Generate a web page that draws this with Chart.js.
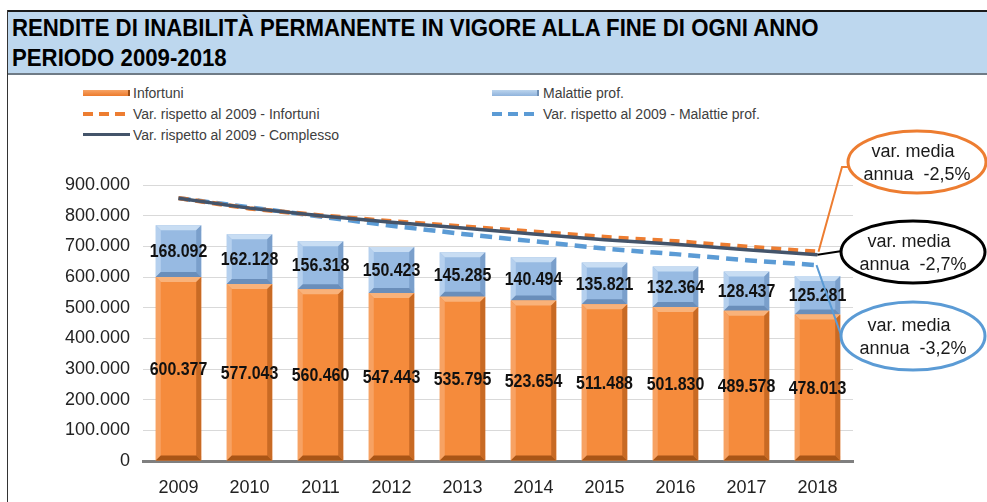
<!DOCTYPE html>
<html><head><meta charset="utf-8">
<script src="https://cdn.jsdelivr.net/npm/chart.js@4.4.1/dist/chart.umd.min.js"></script>
<style>
html,body{margin:0;padding:0;background:#fff;}
#wrap{position:relative;width:987px;height:502px;overflow:hidden;background:#fff;}
#frameL{position:absolute;left:7px;top:10px;width:1px;height:492px;background:#333;}
#header{position:absolute;left:7px;top:10px;width:980px;background:#BDD7EE;border-top:2px solid #1a1a1a;border-bottom:2px solid #6f7b86;box-sizing:border-box;height:65px;}
.t{position:absolute;left:5px;font-family:'Liberation Sans',Arial,sans-serif;font-weight:bold;font-size:24px;color:#000;white-space:nowrap;line-height:26px;transform:scaleX(0.925);transform-origin:0 50%;}
.leg{position:absolute;font-family:'Liberation Sans Narrow','Arial Narrow','Liberation Sans',Arial,sans-serif;font-size:14px;color:#404040;white-space:nowrap;line-height:16px;}
.sw{position:absolute;width:47px;}
canvas{position:absolute;left:0;top:0;}
</style></head>
<body>
<div id="wrap">
  <div id="header">
    <div class="t" style="top:3px">RENDITE DI INABILITÀ PERMANENTE IN VIGORE ALLA FINE DI OGNI ANNO</div>
    <div class="t" style="top:33px">PERIODO 2009-2018</div>
  </div>
  <div id="frameL"></div>
  <div class="sw" style="left:83px;top:90px;height:6px;background:linear-gradient(#F7A466,#EC7A2C);border-right:2px solid #9a4d16;box-sizing:border-box;"></div>
  <div class="leg" style="left:133px;top:85px">Infortuni</div>
  <div class="sw" style="left:492px;top:90px;height:6px;background:linear-gradient(#BCD5EE,#8FB3DC);border-right:2px solid #6f8fb5;box-sizing:border-box;"></div>
  <div class="leg" style="left:543px;top:85px">Malattie prof.</div>
  <div class="sw" style="left:83px;top:112px;height:4px;background:repeating-linear-gradient(90deg,#ED7D31 0 10px,transparent 10px 16px);"></div>
  <div class="leg" style="left:133px;top:106px">Var. rispetto al 2009 - Infortuni</div>
  <div class="sw" style="left:492px;top:112px;height:4px;background:repeating-linear-gradient(90deg,#5B9BD5 0 10px,transparent 10px 16px);"></div>
  <div class="leg" style="left:543px;top:106px">Var. rispetto al 2009 - Malattie prof.</div>
  <div class="sw" style="left:83px;top:133px;height:3px;background:#44546A;"></div>
  <div class="leg" style="left:133px;top:127px">Var. rispetto al 2009 - Complesso</div>
  <canvas id="c" width="987" height="502"></canvas>
</div>
<script>
const years = ['2009','2010','2011','2012','2013','2014','2015','2016','2017','2018'];
const infortuni = [600377,577043,560460,547443,535795,523654,511488,501830,489578,478013];
const malattie  = [168092,162128,156318,150423,145285,140494,135821,132364,128437,125281];
// index 2009 = 100
const varInfortuni = [100,96.1,93.4,91.2,89.2,87.2,85.2,83.6,81.5,79.6];
const varMalattie  = [100,96.5,93.0,89.5,86.4,83.6,80.8,78.7,76.4,74.5];
const varComplesso = [100,96.2,93.3,90.8,88.6,86.4,84.2,82.5,80.4,78.5];
const calloutInfortuni = ['var. media','annua  -2,5%'];
const calloutComplesso = ['var. media','annua  -2,7%'];
const calloutMalattie  = ['var. media','annua  -3,2%'];

const fmt = v => String(v).replace(/\B(?=(\d{3})+(?!\d))/g,'.');
Chart.defaults.font.family = "'Liberation Sans', Arial, sans-serif";

function poly(ctx, pts, color){
  ctx.beginPath(); ctx.moveTo(pts[0][0],pts[0][1]);
  for(let i=1;i<pts.length;i++) ctx.lineTo(pts[i][0],pts[i][1]);
  ctx.closePath(); ctx.fillStyle=color; ctx.fill();
}
const bevelPlugin = {
  id:'bevel',
  afterDatasetDraw(chart,args){
    const ds = chart.data.datasets[args.index];
    const pal = ds.bevelColors; if(!pal) return;
    const ctx = chart.ctx;
    args.meta.data.forEach(el=>{
      const p = el.getProps(['x','y','base','width'],true);
      const l=p.x-p.width/2, r=p.x+p.width/2, t=Math.min(p.y,p.base), b=Math.max(p.y,p.base);
      const d=5;
      ctx.save();
      poly(ctx,[[l,t],[r,t],[r-d,t+d],[l+d,t+d]],pal[0]);
      poly(ctx,[[l,t],[l+d,t+d],[l+d,b-d],[l,b]],pal[1]);
      poly(ctx,[[r,t],[r,b],[r-d,b-d],[r-d,t+d]],pal[2]);
      poly(ctx,[[l,b],[l+d,b-d],[r-d,b-d],[r,b]],pal[3]);
      ctx.restore();
    });
  }
};
const labelPlugin = {
  id:'barlabels',
  afterDatasetsDraw(chart){
    const ctx = chart.ctx;
    chart.data.datasets.forEach((ds,i)=>{
      if(!ds.bevelColors) return;
      const meta = chart.getDatasetMeta(i);
      meta.data.forEach((el,j)=>{
        const p = el.getProps(['x','y','base'],true);
        ctx.save();
        ctx.translate(p.x, (p.y+p.base)/2+1);
        ctx.scale(0.84,1);
        ctx.font = "bold 19px 'Liberation Sans', Arial, sans-serif";
        ctx.fillStyle = '#111';
        ctx.textAlign='center'; ctx.textBaseline='middle';
        ctx.fillText(fmt(ds.data[j]), 0, 0);
        ctx.restore();
      });
    });
  }
};
function ellipse(ctx,cx,cy,rx,ry,color,lines){
  ctx.beginPath(); ctx.ellipse(cx,cy,rx,ry,0,0,Math.PI*2);
  ctx.fillStyle='#fff'; ctx.fill();
  ctx.lineWidth=3; ctx.strokeStyle=color; ctx.stroke();
  ctx.fillStyle='#1a1a1a'; ctx.font="18px 'Liberation Sans', Arial, sans-serif";
  ctx.textAlign='center'; ctx.textBaseline='middle';
  ctx.fillText(lines[0], cx-4, cy-10);
  ctx.fillText(lines[1], cx, cy+13);
}
const calloutPlugin = {
  id:'callouts',
  afterDraw(chart){
    const ctx = chart.ctx, xs = chart.scales.x.getPixelForValue(9), y2 = chart.scales.y2;
    const yI = y2.getPixelForValue(varInfortuni[9]);
    const yC = y2.getPixelForValue(varComplesso[9]);
    const yM = y2.getPixelForValue(varMalattie[9]);
    ctx.save();
    ctx.lineWidth=2;
    ctx.strokeStyle='#ED7D31'; ctx.beginPath(); ctx.moveTo(xs+1,yI); ctx.lineTo(842,167); ctx.lineTo(850,167); ctx.stroke();
    ctx.strokeStyle='#000'; ctx.beginPath(); ctx.moveTo(xs,yC); ctx.lineTo(842,251); ctx.stroke();
    ctx.strokeStyle='#5B9BD5'; ctx.beginPath(); ctx.moveTo(xs-1,yM); ctx.lineTo(841,335); ctx.stroke();
    ellipse(ctx,917,162,69,31,'#ED7D31',calloutInfortuni);
    ellipse(ctx,913,252,72,31,'#000',calloutComplesso);
    ellipse(ctx,913,336,72,34,'#5B9BD5',calloutMalattie);
    ctx.restore();
  }
};

new Chart(document.getElementById('c'),{
  type:'bar',
  data:{
    labels: years,
    datasets:[
      {label:'Infortuni', data:infortuni, backgroundColor:'#F58B3C', stack:'s', order:10,
       bevelColors:['#F9B27A','#F7A263','#C86A24','#A95516'], barPercentage:0.64, categoryPercentage:1},
      {label:'Malattie prof.', data:malattie, backgroundColor:'#97BAE2', stack:'s', order:10,
       bevelColors:['#C8DDF3','#B5D0EE','#7A9FCB','#6A8EBA'], barPercentage:0.64, categoryPercentage:1},
      {type:'line', label:'Var. rispetto al 2009 - Malattie prof.', data:varMalattie, yAxisID:'y2', order:3,
       borderColor:'#5B9BD5', borderWidth:4.5, borderDash:[12,7], pointRadius:0, fill:false, tension:0},
      {type:'line', label:'Var. rispetto al 2009 - Infortuni', data:varInfortuni, yAxisID:'y2', order:2,
       borderColor:'#ED7D31', borderWidth:4.5, borderDash:[10,7], pointRadius:0, fill:false, tension:0},
      {type:'line', label:'Var. rispetto al 2009 - Complesso', data:varComplesso, yAxisID:'y2', order:1,
       borderColor:'#44546A', borderWidth:3.5, pointRadius:0, fill:false, tension:0}
    ]
  },
  options:{
    responsive:false, animation:false,
    layout:{padding:{left:0,right:134,top:185,bottom:0}},
    plugins:{legend:{display:false},tooltip:{enabled:false}},
    scales:{
      x:{stacked:true, grid:{display:false,drawTicks:false}, border:{display:true,color:'#7f7f7f',width:3},
         ticks:{padding:16,color:'#222',font:{size:18}},
         afterFit(s){ s.height=41; }},
      y:{stacked:true, min:0, max:900000,
         ticks:{stepSize:100000,padding:13,color:'#222',font:{size:18},callback:v=>fmt(v)},
         grid:{color:c=>c.tick && c.tick.value===0?'rgba(0,0,0,0)':'#d9d9d9',lineWidth:1,drawTicks:false},
         border:{display:false},
         afterFit(s){ s.width=143; }},
      y2:{display:false,min:0,max:105}
    }
  },
  plugins:[bevelPlugin,labelPlugin,calloutPlugin]
});
</script>
</body></html>
